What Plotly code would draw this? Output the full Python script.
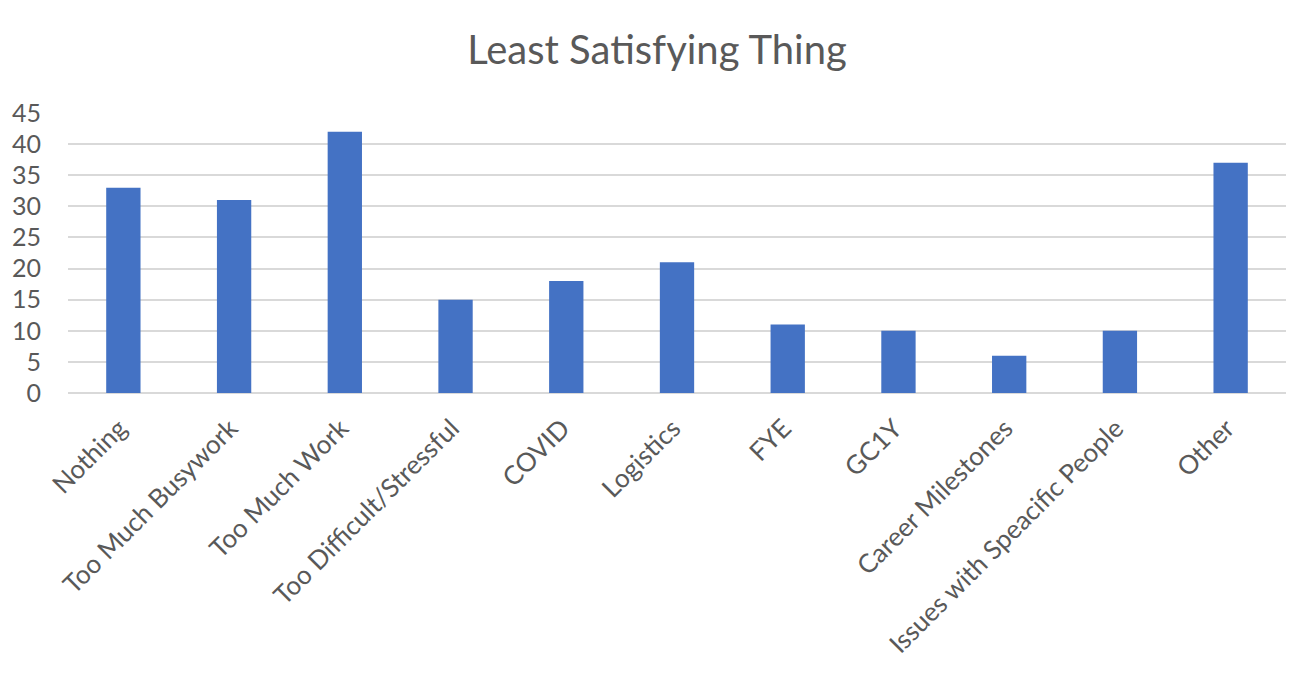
import plotly.graph_objects as go

categories = [
    "Nothing", "Too Much Busywork", "Too Much Work", "Too Difficult/Stressful",
    "COVID", "Logistics", "FYE", "GC1Y", "Career Milestones",
    "Issues with Speacific People", "Other",
]
counts = [33, 31, 42, 15, 18, 21, 11, 10, 6, 10, 37]
y_ticks = [0, 5, 10, 15, 20, 25, 30, 35, 40, 45]

text_color = "#595959"
font_family = "Lato, 'Open Sans', sans-serif"

fig = go.Figure(
    go.Bar(
        x=categories,
        y=counts,
        marker=dict(color="#4472C4", line=dict(width=0)),
        hoverinfo="x+y",
    )
)

fig.update_layout(
    width=1291,
    height=677,
    margin=dict(l=68, r=5, t=113, b=284),
    paper_bgcolor="white",
    plot_bgcolor="white",
    bargap=0.69,
    showlegend=False,
    font=dict(family=font_family, color=text_color),
    title=dict(
        text="Least Satisfying Thing",
        x=657 / 1291,
        xanchor="center",
        y=1 - 50 / 677,
        yanchor="middle",
        font=dict(size=40, color=text_color, family=font_family),
    ),
)

fig.update_xaxes(
    type="category",
    tickangle=-45,
    tickfont=dict(size=26, color=text_color),
    showgrid=False,
    showline=False,
    ticks="",
    ticklabelstandoff=14,
    ticklabelshift=-4,
)

fig.update_yaxes(
    range=[0, 45],
    tickvals=y_ticks,
    tickfont=dict(size=25, color=text_color),
    showgrid=True,
    gridcolor="#D9D9D9",
    gridwidth=2,
    zeroline=True,
    zerolinecolor="#D9D9D9",
    zerolinewidth=2,
    showline=False,
    ticks="",
    ticklabelstandoff=26,
)

fig.write_html("out.html")
